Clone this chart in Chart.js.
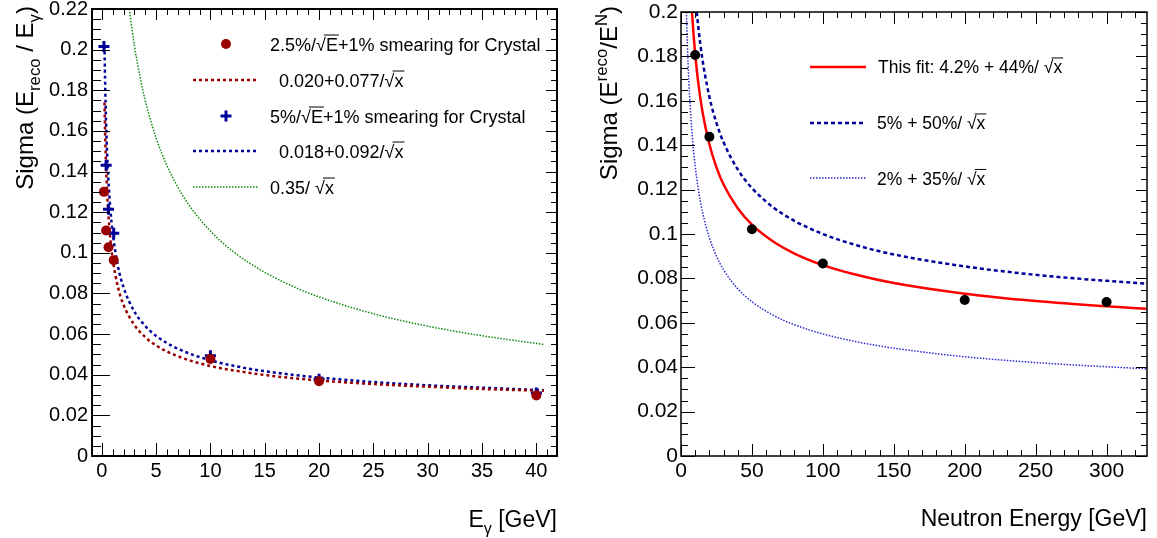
<!DOCTYPE html>
<html><head><meta charset="utf-8">
<script src="https://cdn.jsdelivr.net/npm/chart.js@4.4.1/dist/chart.umd.min.js"></script>
<style>
html,body{margin:0;padding:0;background:#fff;}
#wrap{position:relative;width:1157px;height:538px;overflow:hidden;background:#fff;}
canvas{position:absolute;top:0;}
</style></head><body>
<div id="wrap">
<canvas id="c1" width="578" height="538" style="left:0px"></canvas>
<canvas id="c2" width="579" height="538" style="left:578px"></canvas>
</div>
<script>
// ---------------- LEFT PANEL DATA ----------------
const photonEnergy = [0.2, 0.4, 0.62, 1.1, 10, 20, 40];
const sigmaCrystal25 = [0.130, 0.111, 0.1027, 0.0964, 0.0478, 0.0368, 0.0298];
const sigmaCrystal5 = [0.2015, 0.1431, 0.1214, 0.1096, 0.0493, 0.0378, 0.0310];

const fitEnergy = [0.25, 0.3, 0.4, 0.5, 0.6, 0.8, 1, 1.5, 2, 3, 4, 5, 7, 10, 13, 16, 20, 25, 30, 35, 40.7];
const fit25Values = [0.174, 0.1606, 0.1417, 0.1289, 0.1194, 0.1061, 0.0970, 0.0829, 0.0744, 0.0645, 0.0585, 0.0544, 0.0491, 0.0443, 0.0414, 0.0392, 0.0372, 0.0354, 0.0341, 0.0330, 0.0321];
const fit5Values  = [0.202, 0.186, 0.1635, 0.1481, 0.1368, 0.1209, 0.1100, 0.0931, 0.0831, 0.0711, 0.0640, 0.0591, 0.0528, 0.0471, 0.0435, 0.0410, 0.0386, 0.0364, 0.0348, 0.0336, 0.0324];

const stochEnergy = [2.53, 3, 3.5, 4, 5, 6, 7, 8, 10, 12, 15, 18, 20, 25, 30, 35, 40.7];
const stoch35Values = [0.2200, 0.2021, 0.1871, 0.1750, 0.1565, 0.1429, 0.1323, 0.1237, 0.1107, 0.1010, 0.0904, 0.0825, 0.0783, 0.0700, 0.0639, 0.0592, 0.0549];

const leftXTicks = [0, 5, 10, 15, 20, 25, 30, 35, 40];
const leftYTicks = [0, 0.02, 0.04, 0.06, 0.08, 0.1, 0.12, 0.14, 0.16, 0.18, 0.2, 0.22];

// ---------------- RIGHT PANEL DATA ----------------
const neutronEnergy = [10, 20, 50, 100, 200, 300];
const neutronSigma = [0.1806, 0.1438, 0.1021, 0.0867, 0.0703, 0.0694];

const thisFitEnergy = [7.75, 9, 10, 12, 15, 20, 25, 30, 40, 50, 65, 80, 100, 125, 150, 200, 250, 300, 328];
const thisFitValues = [0.2000, 0.1887, 0.1811, 0.1690, 0.1556, 0.1404, 0.1300, 0.1223, 0.1116, 0.1042, 0.0966, 0.0912, 0.0860, 0.0814, 0.0779, 0.0731, 0.0698, 0.0674, 0.0663];

const ref550Energy = [11.11, 12, 15, 20, 25, 30, 40, 50, 65, 80, 100, 125, 150, 200, 250, 300, 328];
const ref550Values = [0.2000, 0.1943, 0.1791, 0.1618, 0.1500, 0.1413, 0.1291, 0.1207, 0.1120, 0.1059, 0.1000, 0.0947, 0.0908, 0.0854, 0.0816, 0.0789, 0.0776];

const ref235Energy = [3.78, 4, 5, 6, 8, 10, 12, 15, 20, 25, 30, 40, 50, 65, 80, 100, 125, 150, 200, 250, 300, 328];
const ref235Values = [0.2000, 0.1950, 0.1765, 0.1629, 0.1437, 0.1307, 0.1210, 0.1104, 0.0983, 0.0900, 0.0839, 0.0753, 0.0695, 0.0634, 0.0591, 0.0550, 0.0513, 0.0486, 0.0447, 0.0421, 0.0402, 0.0393];

const rightXTicks = [0, 50, 100, 150, 200, 250, 300];
const rightYTicks = [0, 0.02, 0.04, 0.06, 0.08, 0.1, 0.12, 0.14, 0.16, 0.18, 0.2];

// ---------------- helpers ----------------
const FONT = '"Liberation Sans", Arial, Helvetica, sans-serif';
const pts = (xs, ys) => xs.map((x, i) => ({x, y: ys[i]}));

// parts: [text, mode] mode: 'n' normal, 'sub', 'sup', 'sqrt'
function richWidth(ctx, parts, size) {
  let w = 0;
  for (const [t, m] of parts) {
    const fs = (m === 'sub' || m === 'sup') ? size * 0.7 : size;
    ctx.font = fs + 'px ' + FONT;
    if (m === 'sqrt') { w += ctx.measureText('\u221A').width + ctx.measureText(t).width; }
    else w += ctx.measureText(t).width;
  }
  return w;
}
function drawRich(ctx, parts, x, y, size, align, rotate, color) {
  ctx.save();
  ctx.translate(x, y);
  if (rotate) ctx.rotate(-Math.PI / 2);
  ctx.fillStyle = color || '#000';
  ctx.strokeStyle = color || '#000';
  ctx.textAlign = 'left';
  ctx.textBaseline = 'alphabetic';
  const w = richWidth(ctx, parts, size);
  let cx = align === 'right' ? -w : 0;
  for (const [t, m] of parts) {
    if (m === 'sub' || m === 'sup') {
      const fs = size * 0.7;
      ctx.font = fs + 'px ' + FONT;
      const dy = m === 'sub' ? size * 0.3 : -size * 0.42;
      ctx.fillText(t, cx, dy);
      cx += ctx.measureText(t).width;
    } else if (m === 'sqrt') {
      ctx.font = size + 'px ' + FONT;
      const rw = ctx.measureText('\u221A').width;
      ctx.fillText('\u221A', cx, 0);
      const aw = ctx.measureText(t).width;
      ctx.fillText(t, cx + rw, 0);
      ctx.lineWidth = 1;
      ctx.beginPath();
      ctx.moveTo(cx + rw * 0.8, -size * 0.86);
      ctx.lineTo(cx + rw + aw + 1, -size * 0.86);
      ctx.stroke();
      cx += rw + aw;
    } else {
      ctx.font = size + 'px ' + FONT;
      ctx.fillText(t, cx, 0);
      cx += ctx.measureText(t).width;
    }
  }
  ctx.restore();
}

function framePlugin(cfg) {
  return {
    id: 'frameTicks',
    afterDatasetsDraw(chart) {
      const {ctx, chartArea: a, scales: {x, y}} = chart;
      ctx.save();
      ctx.strokeStyle = '#000';
      ctx.lineWidth = 1;
      const seg = (x1, y1, x2, y2) => { ctx.beginPath(); ctx.moveTo(x1, y1); ctx.lineTo(x2, y2); ctx.stroke(); };
      const ny = Math.round((cfg.yMax) / cfg.yMinor);
      for (let i = 0; i <= ny; i++) {
        const v = i * cfg.yMinor;
        const major = (i % cfg.yDiv) === 0;
        const py = Math.round(y.getPixelForValue(v)) + 0.5;
        seg(a.left, py, a.left + (major ? cfg.tl[0] : cfg.tl[1]), py);
        seg(a.right, py, a.right - (major ? cfg.tr[0] : cfg.tr[1]), py);
      }
      const nx = Math.floor(cfg.xMax / cfg.xMinor);
      for (let i = 0; i <= nx; i++) {
        const v = i * cfg.xMinor;
        const major = (i % cfg.xDiv) === 0;
        const px = Math.round(x.getPixelForValue(v)) + 0.5;
        seg(px, a.bottom, px, a.bottom - (major ? cfg.tb[0] : cfg.tb[1]));
        seg(px, a.top, px, a.top + (major ? cfg.tt[0] : cfg.tt[1]));
      }
      ctx.lineWidth = cfg.frameW;
      ctx.strokeRect(a.left, a.top, a.right - a.left, a.bottom - a.top);
      ctx.restore();
    }
  };
}

function textPlugin(items) {
  return {
    id: 'texts',
    afterDraw(chart) {
      const ctx = chart.ctx;
      for (const it of items) {
        if (it.marker) {
          ctx.save();
          if (it.marker === 'circle') {
            ctx.fillStyle = it.color;
            ctx.beginPath(); ctx.arc(it.mx, it.my, it.r, 0, Math.PI * 2); ctx.fill();
          } else if (it.marker === 'cross') {
            ctx.strokeStyle = it.color; ctx.lineWidth = 3;
            ctx.beginPath();
            ctx.moveTo(it.mx - it.r, it.my); ctx.lineTo(it.mx + it.r, it.my);
            ctx.moveTo(it.mx, it.my - it.r); ctx.lineTo(it.mx, it.my + it.r);
            ctx.stroke();
          } else if (it.marker === 'line') {
            ctx.strokeStyle = it.color; ctx.lineWidth = it.lw;
            ctx.setLineDash(it.dash || []);
            ctx.beginPath(); ctx.moveTo(it.x1, it.my); ctx.lineTo(it.x2, it.my); ctx.stroke();
          }
          ctx.restore();
        }
        if (it.parts) drawRich(ctx, it.parts, it.tx, it.ty, it.size, it.align, it.rotate, '#000');
      }
    }
  };
}

function fixedAxis(size, isX) {
  return function (scale) {
    if (isX) scale.height = size; else scale.width = size;
    scale.paddingTop = 0; scale.paddingBottom = 0; scale.paddingLeft = 0; scale.paddingRight = 0;
  };
}
function setTicks(arr) {
  return function (scale) { scale.ticks = arr.map(v => ({value: v})); };
}

const darkRed = '#990000', navy = '#000099', green = '#118811';

// ---------------- LEFT CHART ----------------
new Chart(document.getElementById('c1'), {
  type: 'scatter',
  data: {
    datasets: [
      {label: 'crystal25', data: pts(photonEnergy, sigmaCrystal25), pointStyle: 'circle', pointRadius: 5,
       backgroundColor: darkRed, borderColor: darkRed, borderWidth: 0, showLine: false},
      {label: 'crystal5', data: pts(photonEnergy, sigmaCrystal5), pointStyle: 'cross', pointRadius: 5.5,
       backgroundColor: navy, borderColor: navy, borderWidth: 3, showLine: false},
      {label: 'fit25', data: pts(fitEnergy, fit25Values), showLine: true, pointRadius: 0, borderColor: darkRed,
       borderWidth: 2.5, borderDash: [3, 3], cubicInterpolationMode: 'monotone', fill: false},
      {label: 'fit5', data: pts(fitEnergy, fit5Values), showLine: true, pointRadius: 0, borderColor: navy,
       borderWidth: 2.5, borderDash: [3, 3], cubicInterpolationMode: 'monotone', fill: false},
      {label: 'stoch', data: pts(stochEnergy, stoch35Values), showLine: true, pointRadius: 0, borderColor: green,
       borderWidth: 1.5, borderDash: [1.5, 1.5], cubicInterpolationMode: 'monotone', fill: false}
    ]
  },
  options: {
    responsive: false, animation: false, devicePixelRatio: 1,
    layout: {padding: {left: 0, top: 9, right: 21, bottom: 0}},
    plugins: {legend: {display: false}, tooltip: {enabled: false}},
    scales: {
      x: {type: 'linear', min: -0.9, max: 41.9, afterFit: fixedAxis(82, true), afterBuildTicks: setTicks(leftXTicks),
          grid: {display: false, drawTicks: false}, border: {display: false},
          ticks: {color: '#000', font: {family: FONT, size: 20}, padding: 3, maxRotation: 0, autoSkip: false, callback: v => String(v)}},
      y: {type: 'linear', min: 0, max: 0.22, afterFit: fixedAxis(92, false), afterBuildTicks: setTicks(leftYTicks),
          grid: {display: false, drawTicks: false}, border: {display: false},
          ticks: {color: '#000', font: {family: FONT, size: 20}, padding: 4, autoSkip: false, callback: v => String(+v.toFixed(3))}}
    }
  },
  plugins: [
    framePlugin({yMax: 0.22, yMinor: 0.005, yDiv: 4, xMax: 41, xMinor: 1, xDiv: 5,
                 tl: [18, 9], tr: [11, 6], tb: [13, 6.5], tt: [11, 6], frameW: 2}),
    textPlugin([
      {marker: 'circle', mx: 226, my: 44, r: 5, color: darkRed,
       parts: [['2.5%/', 'n'], ['E', 'sqrt'], ['+1% smearing for Crystal', 'n']], tx: 270, ty: 50.5, size: 18},
      {marker: 'line', x1: 193, x2: 258, my: 80, lw: 2.5, dash: [3, 3], color: darkRed,
       parts: [['0.020+0.077/', 'n'], ['x', 'sqrt']], tx: 279, ty: 86.5, size: 18},
      {marker: 'cross', mx: 226, my: 116, r: 5.5, color: navy,
       parts: [['5%/', 'n'], ['E', 'sqrt'], ['+1% smearing for Crystal', 'n']], tx: 270, ty: 122.5, size: 18},
      {marker: 'line', x1: 193, x2: 258, my: 151, lw: 2.5, dash: [3, 3], color: navy,
       parts: [['0.018+0.092/', 'n'], ['x', 'sqrt']], tx: 279, ty: 157.5, size: 18},
      {marker: 'line', x1: 193, x2: 258, my: 187, lw: 1.5, dash: [1.5, 1.5], color: green,
       parts: [['0.35/ ', 'n'], ['x', 'sqrt']], tx: 270, ty: 193.5, size: 18},
      {parts: [['E', 'n'], ['\u03B3', 'sub'], [' [GeV]', 'n']], tx: 557, ty: 527, size: 23, align: 'right'},
      {parts: [['Sigma (E', 'n'], ['reco', 'sub'], [' / E', 'n'], ['\u03B3', 'sub'], [')', 'n']],
       tx: 33, ty: 6, size: 24, align: 'right', rotate: true}
    ])
  ]
});

// ---------------- RIGHT CHART ----------------
const red = '#ff0000', blueDot = '#2a2ad0';
new Chart(document.getElementById('c2'), {
  type: 'scatter',
  data: {
    datasets: [
      {label: 'data', data: pts(neutronEnergy, neutronSigma), pointStyle: 'circle', pointRadius: 5,
       backgroundColor: '#000', borderColor: '#000', borderWidth: 0, showLine: false},
      {label: 'thisfit', data: pts(thisFitEnergy, thisFitValues), showLine: true, pointRadius: 0, borderColor: red,
       borderWidth: 2.5, cubicInterpolationMode: 'monotone', fill: false},
      {label: 'ref550', data: pts(ref550Energy, ref550Values), showLine: true, pointRadius: 0, borderColor: navy,
       borderWidth: 2.5, borderDash: [4, 3], cubicInterpolationMode: 'monotone', fill: false},
      {label: 'ref235', data: pts(ref235Energy, ref235Values), showLine: true, pointRadius: 0, borderColor: blueDot,
       borderWidth: 1.5, borderDash: [1.5, 1.5], cubicInterpolationMode: 'monotone', fill: false}
    ]
  },
  options: {
    responsive: false, animation: false, devicePixelRatio: 1,
    layout: {padding: {left: 0, top: 12, right: 10, bottom: 0}},
    plugins: {legend: {display: false}, tooltip: {enabled: false}},
    scales: {
      x: {type: 'linear', min: 0, max: 328.5, afterFit: fixedAxis(82, true), afterBuildTicks: setTicks(rightXTicks),
          grid: {display: false, drawTicks: false}, border: {display: false},
          ticks: {color: '#000', font: {family: FONT, size: 21}, padding: 3, maxRotation: 0, autoSkip: false, callback: v => String(v)}},
      y: {type: 'linear', min: 0, max: 0.2, afterFit: fixedAxis(103, false), afterBuildTicks: setTicks(rightYTicks),
          grid: {display: false, drawTicks: false}, border: {display: false},
          ticks: {color: '#000', font: {family: FONT, size: 21}, padding: 3, autoSkip: false, callback: v => String(+v.toFixed(3))}}
    }
  },
  plugins: [
    framePlugin({yMax: 0.2, yMinor: 0.005, yDiv: 4, xMax: 328, xMinor: 10, xDiv: 5,
                 tl: [14, 7], tr: [11, 6], tb: [12, 6], tt: [12, 6], frameW: 1.5}),
    textPlugin([
      {marker: 'line', x1: 232, x2: 288, my: 67, lw: 2.5, color: red,
       parts: [['This fit: 4.2% + 44%/ ', 'n'], ['x', 'sqrt']], tx: 300, ty: 73, size: 17.5},
      {marker: 'line', x1: 232, x2: 288, my: 123, lw: 2.5, dash: [4, 3], color: navy,
       parts: [['5% + 50%/ ', 'n'], ['x', 'sqrt']], tx: 299, ty: 129, size: 17.5},
      {marker: 'line', x1: 232, x2: 288, my: 178, lw: 1.5, dash: [1.5, 1.5], color: blueDot,
       parts: [['2% + 35%/ ', 'n'], ['x', 'sqrt']], tx: 299, ty: 184.5, size: 17.5},
      {parts: [['Neutron Energy [GeV]', 'n']], tx: 569, ty: 526, size: 23, align: 'right'},
      {parts: [['Sigma (E', 'n'], ['reco', 'sup'], ['/E', 'n'], ['N', 'sup'], [')', 'n']],
       tx: 39, ty: 6, size: 24, align: 'right', rotate: true}
    ])
  ]
});
</script>
</body></html>
